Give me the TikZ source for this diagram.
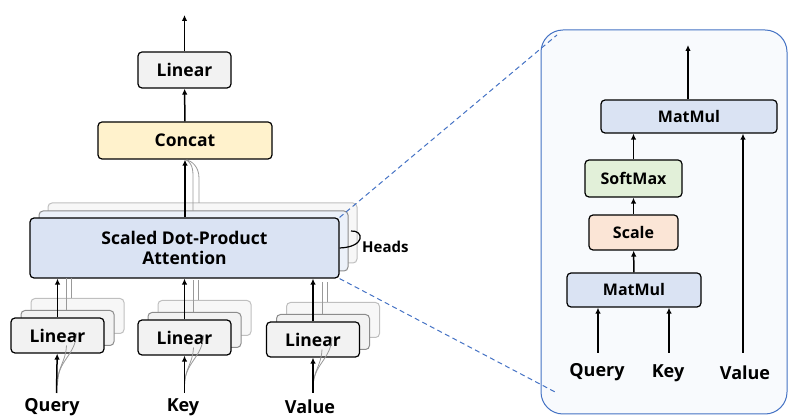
\documentclass[tikz,border=0pt]{standalone}
\usepackage{fontspec}
\setmainfont{Open Sans}
\usetikzlibrary{arrows.meta}

\definecolor{lingray}{HTML}{F2F2F2}
\definecolor{concatfill}{HTML}{FFF2CC}
\definecolor{attnfill}{HTML}{DAE3F3}
\definecolor{softfill}{HTML}{E2F0D9}
\definecolor{scalefill}{HTML}{FBE5D6}
\definecolor{zoomblue}{HTML}{4472C4}
\definecolor{panelfill}{HTML}{F8FAFD}

\tikzset{
  blk/.style = {draw, line width = 1.2pt, rounded corners = 4pt, inner sep = 0pt,
                font = \bfseries\fontsize{17.5}{20}\selectfont, align = center},
  smallblk/.style = {blk, font = \bfseries\fontsize{16}{19}\selectfont},
  ghost/.style = {draw = gray!90, line width = 1pt, rounded corners = 4pt},
  faint/.style = {draw = gray!50, line width = 1pt, rounded corners = 4pt},
  flow/.style = {line width = 1.5pt, -{Latex[length = 6pt, width = 5.5pt]}},
  trace/.style = {draw = gray!80, line width = 0.8pt},
  lbl/.style = {font = \bfseries\fontsize{18}{21}\selectfont, inner sep = 0pt}
}

\begin{document}
\begin{tikzpicture}[x = 1pt, y = -1pt]
\useasboundingbox (0,0) rectangle (790,419);

% zoom panel
\node [draw = zoomblue, line width = 1pt, fill = panelfill, rounded corners = 22pt,
       minimum width = 246pt, minimum height = 384pt] (panel) at (664,222) {};
\coordinate (pt) at (557,35);
\coordinate (pb) at (557,393);

% heads behind attention
\fill [faint, fill = lingray!60] (48,203) rectangle (357,263);
\fill [ghost, fill = attnfill!50] (39,211) rectangle (348,271);
\node [blk, fill = attnfill, minimum width = 309pt, minimum height = 60pt] (attn) at (184.5,248)
  {Scaled Dot-Product\\Attention};
\draw [zoomblue, dash pattern = on 5pt off 3.5pt, line width = 1pt] (attn.north east) -- (pt);
\draw [zoomblue, dash pattern = on 5pt off 3.5pt, line width = 1pt] (attn.south east) -- (pb);
\draw [line width = 1.2pt] (attn.east |- 0,248) .. controls (366,247) and (364,230) .. (351,231);
\node [lbl, font = \bfseries\fontsize{15}{18}\selectfont, anchor = west] (heads) at (362,247) {Heads};

% projections
\foreach \nm/\cx/\cy in {q/57.5/335.5, k/184.5/337.5, v/313/339.5} {
  \fill [faint, fill = lingray!60] (\cx-26.5,\cy-37) rectangle (\cx+66.5,\cy-2);
  \fill [ghost, fill = lingray] (\cx-36.5,\cy-25) rectangle (\cx+56.5,\cy+10);
  \node [blk, fill = lingray, minimum width = 93pt, minimum height = 35pt] (lin\nm) at (\cx,\cy) {Linear};
  \draw [trace] (\cx+9,\cy-25) -- (\cx+9,\cy-57);
  \draw [trace] (\cx+14,\cy-37) -- (\cx+14,\cy-57);
  \draw [trace] (\cx,\cy+50) .. controls (\cx,\cy+30) and (\cx+8,\cy+28) .. (\cx+9,\cy+10);
  \draw [trace] (\cx,\cy+48) .. controls (\cx,\cy+25) and (\cx+18,\cy+20) .. (\cx+19,\cy-2);
}

\node [lbl] (query) at (52,407) {Query};
\node [lbl] (key) at (183,407) {Key};
\node [lbl] (value) at (310,407) {Value};
\coordinate (qin) at (56.5,393);
\coordinate (kin) at (184.5,393);
\coordinate (vin) at (313,393);

\draw [flow] (qin) -- (linq);
\draw [flow] (kin) -- (link);
\draw [flow] (vin) -- (linv);
\draw [flow] (linq) -- (linq |- attn.south);
\draw [flow] (link) -- (link |- attn.south);
\draw [flow] (linv) -- (linv |- attn.south);

% top of the stack
\node [blk, fill = concatfill, minimum width = 174pt, minimum height = 37pt] (concat) at (185,140.5) {Concat};
\node [blk, fill = lingray, minimum width = 93pt, minimum height = 36pt] (linout) at (184.5,70) {Linear};
\coordinate (out) at (184.5,15);
\draw [trace] (193,211) -- (193,175) .. controls (193,165) and (189,161) .. (186,160);
\draw [trace] (199,203) -- (199,178) .. controls (199,166) and (191,161) .. (187,160);
\draw [flow] (attn.north -| concat) -- (concat);
\draw [flow] (concat) -- (linout);
\draw [flow] (linout) -- (out);

% inside one head
\node [smallblk, fill = attnfill, minimum width = 176pt, minimum height = 33pt] (mm2) at (689,116.5) {MatMul};
\node [smallblk, fill = softfill, minimum width = 97pt, minimum height = 37pt] (soft) at (633.5,178.5) {SoftMax};
\node [smallblk, fill = scalefill, minimum width = 89pt, minimum height = 35pt] (scale) at (633.5,232.5) {Scale};
\node [smallblk, fill = attnfill, minimum width = 134pt, minimum height = 34pt] (mm1) at (634,290) {MatMul};

\node [lbl] (rquery) at (597,372) {Query};
\node [lbl] (rkey) at (668,373) {Key};
\node [lbl] (rvalue) at (745,373) {Value};
\coordinate (rq) at (598,353);
\coordinate (rk) at (669,353);
\coordinate (rv) at (743,353);
\coordinate (rout) at (688,45);

\draw [flow] (rq) -- (rq |- mm1.south);
\draw [flow] (rk) -- (rk |- mm1.south);
\draw [flow] (rv) -- (rv |- mm2.south);
\draw [flow] (mm1) -- (scale);
\draw [flow] (scale) -- (soft);
\draw [flow] (soft) -- (soft |- mm2.south);
\draw [flow] (mm2.north -| rout) -- (rout);
\end{tikzpicture}
\end{document}
